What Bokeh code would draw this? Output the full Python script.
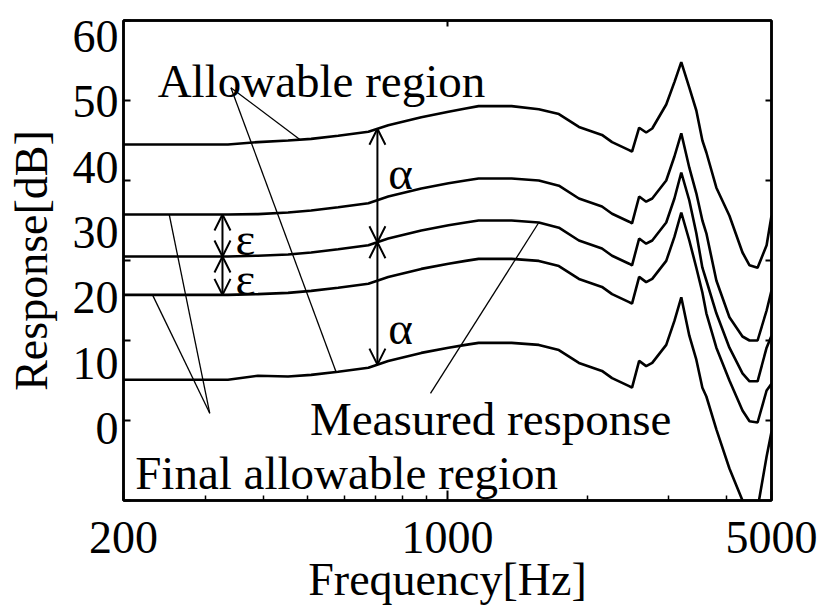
import numpy as np
from bokeh.plotting import figure
from bokeh.models import Range1d, LinearAxis, LogAxis, FixedTicker, Label, Arrow, OpenHead
from bokeh.embed import file_html
from bokeh.resources import INLINE

# ---------------- data ----------------
FREQ = [200, 336, 390, 453, 508, 581, 675, 745, 878, 1005, 1094, 1167, 1375, 1574,
        1739, 1921, 2154, 2265, 2465, 2501, 2591, 2683, 2765, 2964, 3087, 3194,
        3324, 3442, 3547, 3618, 3802, 4057, 4329, 4483, 4666, 4880, 5000]

MEASURED = [30.5, 30.5, 30.6, 30.75, 31.0, 31.4, 31.9, 32.75, 33.75, 34.4, 34.75, 35.0,
            35.0, 34.75, 34.1, 32.5, 31.5, 30.6, 29.6, 29.4, 32.75, 32.1, 32.5, 34.75,
            37.75, 41.0, 37.5, 33.4, 29.1, 27.5, 23.4, 19.1, 15.9, 14.9, 14.9, 19.1, 20.6]

UPPER_ALPHA = [44.5, 44.5, 44.8, 45.0, 45.2, 45.6, 46.1, 46.9, 47.9, 48.6, 49.0, 49.3,
               49.3, 48.9, 48.3, 46.7, 45.7, 44.8, 43.8, 43.6, 46.6, 46.0, 46.5, 49.5,
               52.3, 54.8, 51.6, 48.75, 45.0, 43.5, 39.1, 35.6, 31.0, 29.4, 29.1, 31.9, 35.6]

UPPER_EPS = [35.75, 35.75, 35.8, 36.0, 36.25, 36.65, 37.15, 38.0, 39.0, 39.65, 40.0, 40.25,
             40.25, 40.0, 39.35, 37.75, 36.75, 35.85, 34.85, 34.65, 38.0, 37.35, 37.75, 40.0,
             43.0, 45.9, 41.6, 38.4, 35.0, 33.4, 27.5, 22.9, 20.5, 20.0, 20.0, 23.75, 26.25]

LOWER_EPS = [25.7, 25.7, 25.8, 25.95, 26.2, 26.6, 27.1, 27.95, 28.95, 29.6, 29.95, 30.2,
             30.2, 29.95, 29.3, 27.7, 26.7, 25.8, 24.8, 24.6, 27.95, 27.3, 27.7, 29.95,
             32.95, 36.0, 32.5, 29.1, 26.0, 23.4, 19.1, 15.0, 11.25, 9.9, 9.75, 13.75, 14.6]

LOWER_ALPHA = [15.1, 15.1, 15.6, 15.5, 15.7, 16.1, 16.6, 17.45, 18.45, 19.1, 19.45, 19.7,
               19.7, 19.45, 18.8, 17.2, 16.2, 15.3, 14.3, 14.1, 17.45, 16.8, 17.2, 19.45,
               22.45, 25.4, 20.6, 17.6, 14.1, 13.0, 8.9, 4.0, 0.0, -3.0, -1.0, 5.5, 8.6]

X_TICKS = [200, 1000, 5000]
X_TICK_LABELS = ["200", "1000", "5000"]
X_MINOR_TICKS = [300, 400, 500, 600, 700, 800, 900, 2000, 3000, 4000]
Y_TICKS = [0, 10, 20, 30, 40, 50, 60]
Y_TICK_LABELS = ["0", "10", "20", "30", "40", "50", "60"]
Y_RIGHT_TICKS = [10, 20, 30, 40, 50]

# annotation anchors
ALPHA_FREQ = 706
EPS_FREQ = 327
TEXTS = ["Allowable region", "Measured response", "Final allowable region", "α", "α", "ε", "ε"]
TEXT_FREQ = [237, 505, 212, 745, 745, 349, 349]
TEXT_DB = [52.5, 10.25, 3.4, 41.0, 21.6, 32.75, 27.75]
LEADER_FROM_FREQ = [341, 341, 307, 307, 919]
LEADER_FROM_DB = [51.6, 51.6, 10.9, 10.9, 13.4]
LEADER_TO_FREQ = [481, 575, 231, 251, 1574]
LEADER_TO_CURVE = ["upper_alpha", "lower_alpha", "lower_eps", "upper_eps", "measured"]

FONT = "Liberation Serif"
FS = "46px"
FS_NOTE = "47px"

CURVES = {"upper_alpha": UPPER_ALPHA, "upper_eps": UPPER_EPS, "measured": MEASURED,
          "lower_eps": LOWER_EPS, "lower_alpha": LOWER_ALPHA}
LOGF = np.log10(FREQ)


def at(freq, vals):
    return float(np.interp(np.log10(freq), LOGF, vals))


def ticks_only(axis, length):
    axis.major_tick_in = length
    axis.major_tick_out = 0
    axis.major_tick_line_width = 2
    axis.minor_tick_line_color = None
    axis.axis_line_width = 2.5
    axis.major_label_text_font_size = "1px"
    axis.major_label_text_color = None
    axis.major_label_standoff = 0


p = figure(width=830, height=608, x_axis_type="log",
           x_range=Range1d(200, 5000), y_range=Range1d(0, 60),
           output_backend="svg", toolbar_location=None,
           min_border_left=123, min_border_right=59, min_border_top=20, min_border_bottom=108)
p.extra_y_ranges = {"labels": Range1d(-11.02, 62.45)}
p.grid.visible = False
p.outline_line_color = "black"
p.outline_line_width = 2.5
p.outline_line_alpha = 1.0
p.background_fill_color = "white"
p.border_fill_color = "white"

# bottom axis
xa = p.xaxis[0]
xa.ticker = FixedTicker(ticks=X_TICKS, minor_ticks=X_MINOR_TICKS)
xa.major_label_overrides = {t: l for t, l in zip(X_TICKS, X_TICK_LABELS)}
xa.major_tick_in = 10
xa.major_tick_out = 0
xa.minor_tick_in = 5
xa.minor_tick_out = 0
xa.axis_line_width = 2.5
xa.major_tick_line_width = 2
xa.minor_tick_line_width = 1.5
xa.major_label_text_font = FONT
xa.major_label_text_font_size = FS
xa.major_label_text_color = "black"
xa.major_label_standoff = 21
xa.axis_label = "Frequency[Hz]"
xa.axis_label_text_font = FONT
xa.axis_label_text_font_size = FS
xa.axis_label_text_font_style = "normal"
xa.axis_label_text_color = "black"
xa.axis_label_standoff = -2

# left axis: tick marks only
ya = p.yaxis[0]
ya.ticker = FixedTicker(ticks=Y_TICKS, minor_ticks=[])
ticks_only(ya, 7)

# left axis: tick labels as placed in the reference
yl = LinearAxis(y_range_name="labels",
                ticker=FixedTicker(ticks=Y_TICKS, minor_ticks=[]),
                major_label_overrides={t: l for t, l in zip(Y_TICKS, Y_TICK_LABELS)})
yl.major_tick_line_color = None
yl.minor_tick_line_color = None
yl.major_tick_in = 0
yl.major_tick_out = 0
yl.axis_line_color = None
yl.major_label_text_font = FONT
yl.major_label_text_font_size = FS
yl.major_label_text_color = "black"
yl.major_label_standoff = 5
yl.axis_label = "Response[dB]"
yl.axis_label_text_font = FONT
yl.axis_label_text_font_size = FS
yl.axis_label_text_font_style = "normal"
yl.axis_label_text_color = "black"
yl.axis_label_standoff = 13
p.add_layout(yl, "left")

# right and top axes: inward ticks only
yr = LinearAxis(ticker=FixedTicker(ticks=Y_RIGHT_TICKS, minor_ticks=[]))
ticks_only(yr, 6)
p.add_layout(yr, "right")

xt = LogAxis(ticker=FixedTicker(ticks=[1000], minor_ticks=[]))
ticks_only(xt, 6)
p.add_layout(xt, "above")

# curves
for key in ["upper_alpha", "upper_eps", "measured", "lower_eps", "lower_alpha"]:
    p.line(FREQ, CURVES[key], line_color="black", line_width=2.6)

# leader lines
p.segment(x0=LEADER_FROM_FREQ, y0=LEADER_FROM_DB,
          x1=LEADER_TO_FREQ,
          y1=[at(f, CURVES[c]) for f, c in zip(LEADER_TO_FREQ, LEADER_TO_CURVE)],
          line_color="black", line_width=1.3)

# dimension arrows
for f, lo_key, hi_key in [(ALPHA_FREQ, "measured", "upper_alpha"),
                          (ALPHA_FREQ, "lower_alpha", "measured"),
                          (EPS_FREQ, "measured", "upper_eps"),
                          (EPS_FREQ, "lower_eps", "measured")]:
    p.add_layout(Arrow(start=OpenHead(size=16, line_width=2, line_color="black"),
                       end=OpenHead(size=16, line_width=2, line_color="black"),
                       x_start=f, y_start=at(f, CURVES[lo_key]),
                       x_end=f, y_end=at(f, CURVES[hi_key]),
                       line_width=2, line_color="black"))

# texts
for t, f, d in zip(TEXTS, TEXT_FREQ, TEXT_DB):
    p.add_layout(Label(x=f, y=d, text=t, text_font=FONT, text_font_size=FS_NOTE,
                       text_color="black", text_baseline="alphabetic", text_align="left"))

open("out.html", "w").write(file_html(p, INLINE))
